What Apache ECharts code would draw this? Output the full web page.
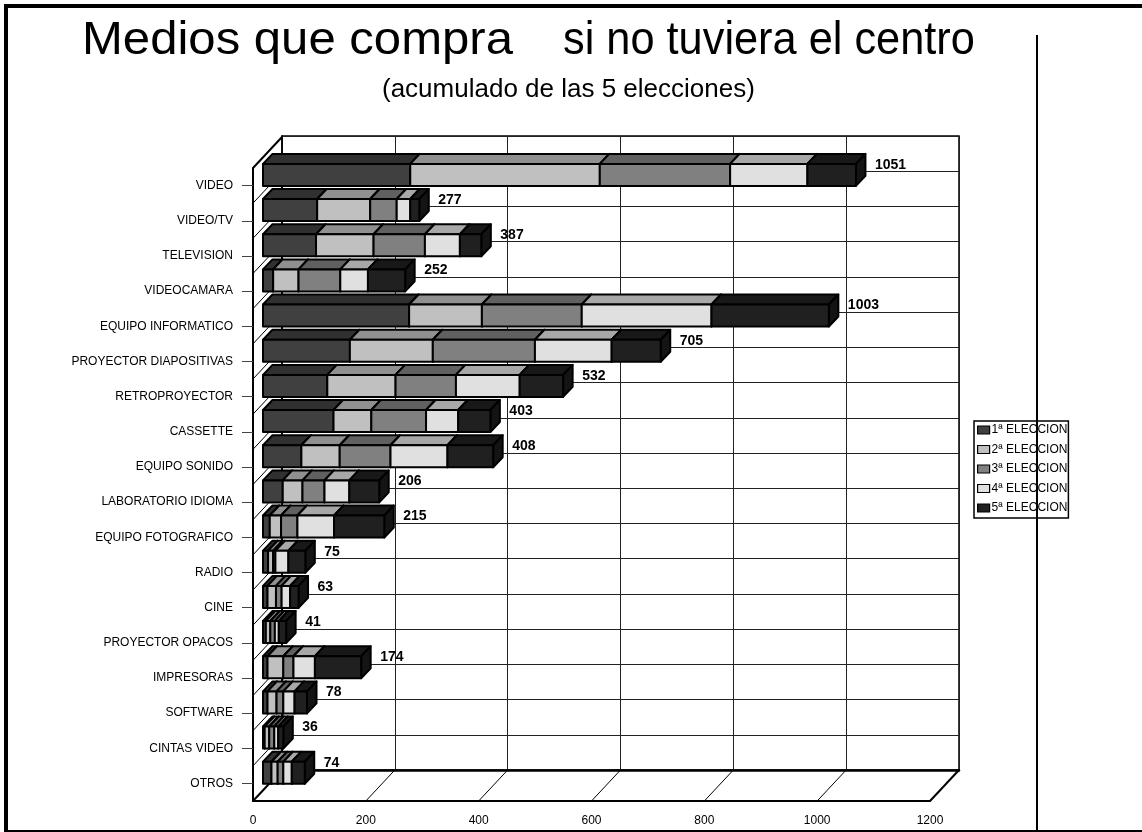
<!DOCTYPE html>
<html><head><meta charset="utf-8">
<style>html,body{margin:0;padding:0;background:#fff}#c{width:1142px;height:832px}</style>
<script src="https://cdn.jsdelivr.net/npm/echarts@6/dist/echarts.min.js"></script>
</head><body><div id="c"></div>
<script>
const categories = ['VIDEO','VIDEO/TV','TELEVISION','VIDEOCAMARA','EQUIPO INFORMATICO','PROYECTOR DIAPOSITIVAS','RETROPROYECTOR','CASSETTE','EQUIPO SONIDO','LABORATORIO IDIOMA','EQUIPO FOTOGRAFICO','RADIO','CINE','PROYECTOR OPACOS','IMPRESORAS','SOFTWARE','CINTAS VIDEO','OTROS'];
const eleccion1 = [261,96,94,18,259,154,114,125,68,35,12,9,8,5,8,8,3,15];
const eleccion2 = [336,94,102,45,129,147,121,67,68,35,20,9,15,8,28,16,8,11];
const eleccion3 = [231,47,91,74,177,181,107,97,90,39,29,4,10,8,18,12,9,10];
const eleccion4 = [137,24,62,49,230,136,113,57,101,44,65,23,15,7,38,20,7,15];
const eleccion5 = [86,16,38,66,208,87,77,57,81,53,89,30,15,13,82,22,9,23];
const totals = [1051,277,387,252,1003,705,532,403,408,206,215,75,63,41,174,78,36,74];
const valueTicks = [0,200,400,600,800,1000,1200];
const seriesNames = ['1ª ELECCION','2ª ELECCION','3ª ELECCION','4ª ELECCION','5ª ELECCION'];
const frontColors = ['#404040','#c0c0c0','#808080','#e0e0e0','#202020'];
const topColors = ['#303030','#909090','#606060','#a8a8a8','#181818'];
const sideColors = ['#282828','#808080','#505050','#909090','#141414'];
const allValues = [eleccion1,eleccion2,eleccion3,eleccion4,eleccion5];

const FONT = '"Liberation Sans", Arial, sans-serif';
const WALL_DX = 29, WALL_DY = -31;          // chart depth
const FACE_DX = 10, FACE_DY = -10.7;        // front face offset from the front plane
const BAR_DX = 9.5, BAR_DY = -10;           // depth of a bar
const BAR_H = 22;

function barRender(sIdx){
  return function(params, api){
    const a = api.coord([api.value(0), api.value(2)]);
    const b = api.coord([api.value(1), api.value(2)]);
    const x0 = a[0]+FACE_DX, x1 = b[0]+FACE_DX;
    const yc = a[1]+FACE_DY, y0 = yc-BAR_H/2, y1 = yc+BAR_H/2;
    const st = f => ({fill:f, stroke:'#000', lineWidth:2, lineJoin:'round'});
    return {type:'group', silent:true, children:[
      {type:'polygon', shape:{points:[[x0,y0],[x1,y0],[x1+BAR_DX,y0+BAR_DY],[x0+BAR_DX,y0+BAR_DY]]}, style:st(topColors[sIdx])},
      {type:'polygon', shape:{points:[[x1,y0],[x1+BAR_DX,y0+BAR_DY],[x1+BAR_DX,y1+BAR_DY],[x1,y1]]}, style:st(sideColors[sIdx])},
      {type:'rect', shape:{x:x0,y:y0,width:x1-x0,height:BAR_H}, style:st(frontColors[sIdx])}
    ]};
  };
}
const stacked = [];
const running = categories.map(()=>0);
allValues.forEach((vals,s)=>{
  const d = vals.map((v,i)=>{const r=[running[i],running[i]+v,i]; running[i]+=v; return r;});
  stacked.push({name:seriesNames[s], type:'custom', coordinateSystem:'cartesian2d', xAxisIndex:0, yAxisIndex:0, z:5+s,
    clip:false, silent:true, itemStyle:{color:frontColors[s]}, encode:{x:[0,1],y:2}, renderItem:barRender(s), data:d});
});

const floorSeries = {name:'floor', type:'custom', xAxisIndex:0, yAxisIndex:0, z:3, clip:false, silent:true,
  encode:{x:0}, data:valueTicks.map(v=>[v]),
  renderItem(params, api){
    const x = api.coord([api.value(0),0])[0], cs = params.coordSys, y = cs.y+cs.height;
    const w = (x===cs.x || x===cs.x+cs.width) ? 2 : 1;
    return {type:'line', silent:true, shape:{x1:x,y1:y,x2:x+WALL_DX,y2:y+WALL_DY}, style:{stroke:'#000',lineWidth:w}};
  }};
const sideSeries = {name:'side', type:'custom', xAxisIndex:0, yAxisIndex:0, z:3, clip:false, silent:true,
  encode:{y:0}, data:categories.map((c,i)=>[i]),
  renderItem(params, api){
    const cs = params.coordSys, x = cs.x, y = cs.y + api.value(0)*cs.height/categories.length;
    return {type:'line', silent:true, shape:{x1:x,y1:y,x2:x+WALL_DX,y2:y+WALL_DY}, style:{stroke:'#000',lineWidth:api.value(0)===0?2:1}};
  }};
const labelSeries = {name:'totals', type:'custom', xAxisIndex:0, yAxisIndex:0, z:20, clip:false, silent:true,
  encode:{x:0,y:1}, data:totals.map((t,i)=>[t,i]),
  renderItem(params, api){
    const p = api.coord([api.value(0),api.value(1)]);
    return {type:'text', silent:true, style:{text:String(api.value(0)), x:p[0]+FACE_DX+19, y:p[1]+FACE_DY-10,
      verticalAlign:'middle', align:'left', fill:'#000', font:'bold 14px '+FONT}};
  }};

const option = {
  animation:false, backgroundColor:'#fff',
  legend:{data:seriesNames, orient:'vertical', left:974, top:421, padding:[3,1,4,3], itemWidth:12, itemHeight:8, itemGap:7.5,
    backgroundColor:'#fff', borderColor:'#000', borderWidth:1.5, selectedMode:false, icon:'rect',
    itemStyle:{borderColor:'#000',borderWidth:1.2}, textStyle:{fontFamily:FONT,fontSize:12,color:'#000',padding:[0,0,0,-3]}},
  grid:[
    {left:253, top:168, width:677, height:633, show:false},
    {left:282, top:136, width:677, height:634, show:true, borderColor:'#000', borderWidth:1.5, backgroundColor:'transparent'}
  ],
  xAxis:[
    {type:'value', gridIndex:0, min:0, max:1200, interval:200, position:'bottom',
     axisLine:{show:true,onZero:false,lineStyle:{color:'#000',width:2}}, axisTick:{show:false}, splitLine:{show:false},
     axisLabel:{fontFamily:FONT,fontSize:12,color:'#000',margin:14,showMinLabel:true,showMaxLabel:true,formatter:v=>String(v)}},
    {type:'value', gridIndex:1, min:0, max:1200, interval:200, position:'bottom',
     axisLine:{show:true,onZero:false,lineStyle:{color:'#000',width:2.5}}, axisTick:{show:false}, axisLabel:{show:false},
     splitLine:{show:true,lineStyle:{color:'#222',width:1,type:'solid'}}}
  ],
  yAxis:[
    {type:'category', gridIndex:0, inverse:true, data:categories, position:'left',
     axisLine:{show:true,onZero:false,lineStyle:{color:'#000',width:2}},
     axisTick:{show:true,alignWithLabel:true,length:11,lineStyle:{color:'#444',width:1}},
     splitLine:{show:false}, axisLabel:{interval:0,fontFamily:FONT,fontSize:12,color:'#000',margin:20}},
    {type:'category', gridIndex:1, inverse:true, data:categories, position:'left',
     axisLine:{show:true,onZero:false,lineStyle:{color:'#000',width:1.5}}, axisTick:{show:false}, axisLabel:{show:false},
     splitLine:{show:true,interval:0,lineStyle:{color:'#222',width:1,type:'solid'}}}
  ],
  graphic:[
    {type:'text', z:100, silent:true, x:82, y:18, scaleX:1.044, style:{text:'Medios que compra', fill:'#000', font:'47px '+FONT}},
    {type:'text', z:100, silent:true, x:563, y:18, scaleX:0.922, style:{text:'si no tuviera el centro', fill:'#000', font:'47px '+FONT}},
    {type:'text', z:100, silent:true, x:382, y:77, style:{text:'(acumulado de las 5 elecciones)', fill:'#000', font:'26px '+FONT}},
    {type:'rect', z:100, silent:true, shape:{x:4,y:4,width:1138,height:4}, style:{fill:'#000'}},
    {type:'rect', z:100, silent:true, shape:{x:4,y:4,width:4,height:828}, style:{fill:'#000'}},
    {type:'rect', z:100, silent:true, shape:{x:4,y:830,width:1138,height:2}, style:{fill:'#000'}},
    {type:'rect', z:100, silent:true, shape:{x:1036,y:35,width:2,height:797}, style:{fill:'#000'}}
  ],
  series:[floorSeries, sideSeries].concat(stacked,[labelSeries])
};
const chart = echarts.init(document.getElementById('c'), null, {renderer:'canvas'});
chart.setOption(option);
</script></body></html>
